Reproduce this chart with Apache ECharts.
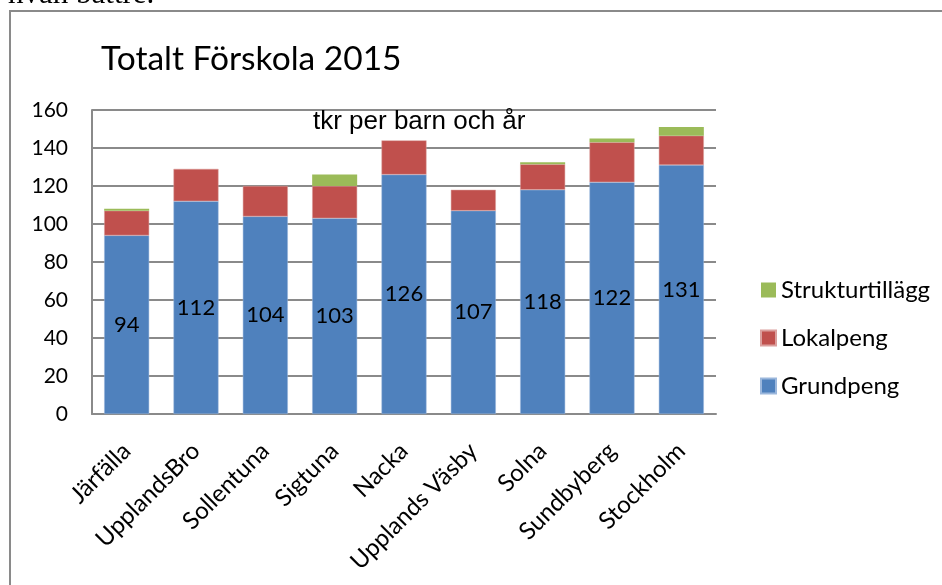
<!DOCTYPE html>
<html lang="sv">
<head>
<meta charset="UTF-8">
<title>Totalt Förskola 2015</title>
<script src="https://cdn.jsdelivr.net/npm/echarts@6/dist/echarts.min.js"></script>
<style>
    html, body { margin: 0; padding: 0; background: #fff; }
    #main { width: 942px; height: 585px; }
</style>
</head>
<body>
<div id="main"></div>
<script>
// kommuner
const kommuner = ['Järfälla', 'UpplandsBro', 'Sollentuna', 'Sigtuna', 'Nacka', 'Upplands Väsby', 'Solna', 'Sundbyberg', 'Stockholm'];
// tkr per barn och år
const grundpeng = [94, 112, 104, 103, 126, 107, 118, 122, 131];
const lokalpeng = [13, 17, 16, 17, 18, 11, 13.5, 21, 15.5];
const strukturtillagg = [1, 0, 0, 6, 0, 0, 1, 2, 4.5];
const yTicks = [0, 20, 40, 60, 80, 100, 120, 140, 160];

const font = 'Lato';
let myChart = echarts.init(document.getElementById('main'));

let option = {
    animation: false,
    backgroundColor: '#fff',
    title: [
        {
            text: 'Totalt Förskola 2015',
            left: 96, top: 37,
            textStyle: { fontFamily: font, fontSize: 33.5, fontWeight: 'normal', color: '#000' }
        },
        {
            text: 'tkr per barn och år',
            left: 308, top: 104,
            textStyle: { fontFamily: 'Liberation Sans', fontSize: 26, fontWeight: 'normal', color: '#000' }
        }
    ],
    graphic: [
        {
            type: 'rect',
            shape: { x: 10, y: 11, width: 960, height: 600 },
            style: { fill: 'none', stroke: '#8a8a8a', lineWidth: 2 },
            z: -1
        },
        {
            type: 'text',
            left: 8, top: -21,
            style: { text: 'hvän battre.', fontFamily: 'Liberation Serif', fontSize: 31, fill: '#000' }
        }
    ],
    legend: {
        orient: 'vertical',
        left: 755, top: 273,
        itemWidth: 15, itemHeight: 15, itemGap: 24,
        icon: 'rect',
        data: ['Strukturtillägg', 'Lokalpeng', 'Grundpeng'],
        textStyle: { fontFamily: font, fontSize: 24, lineHeight: 24, color: '#000' }
    },
    grid: { left: 92, right: 226, top: 110, bottom: 171 },
    xAxis: {
        type: 'category',
        data: kommuner,
        axisLine: { lineStyle: { color: '#8a8a8a', width: 2 } },
        axisTick: { show: false },
        axisLabel: { rotate: 45, margin: 33, interval: 0,
                     fontFamily: font, fontSize: 24, color: '#000' }
    },
    yAxis: {
        type: 'value',
        min: yTicks[0], max: yTicks[yTicks.length - 1], interval: 20,
        axisLine: { show: true, lineStyle: { color: '#8a8a8a', width: 2 } },
        axisTick: { show: false },
        splitLine: { lineStyle: { color: '#8a8a8a', width: 2 } },
        axisLabel: { margin: 24, fontFamily: font, fontSize: 21, color: '#000' }
    },
    series: [
        {
            name: 'Grundpeng', type: 'bar', stack: 'tot', barWidth: 45,
            data: grundpeng,
            itemStyle: { color: '#4F81BD', borderColor: '#9bb7dc', borderWidth: 0.5 },
            label: { show: true, position: 'inside', fontFamily: font, fontSize: 22, color: '#000',
                     formatter: p => Math.round(p.value) }
        },
        {
            name: 'Lokalpeng', type: 'bar', stack: 'tot', barWidth: 45,
            data: lokalpeng,
            itemStyle: { color: '#C0504D', borderColor: '#dba09e', borderWidth: 0.5 }
        },
        {
            name: 'Strukturtillägg', type: 'bar', stack: 'tot', barWidth: 45,
            data: strukturtillagg,
            itemStyle: { color: '#9BBB59' }
        }
    ]
};
myChart.setOption(option);
</script>
</body>
</html>
